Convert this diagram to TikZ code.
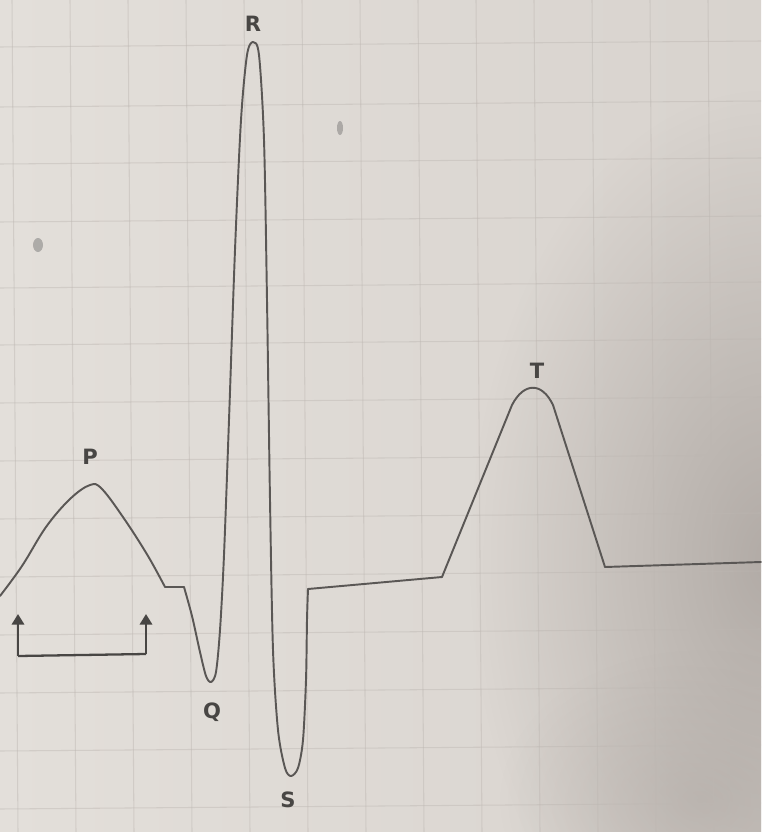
\documentclass[tikz,border=0pt]{standalone}
\usepackage{fontspec}
\setsansfont{DejaVu Sans}
\usetikzlibrary{arrows.meta,fadings}
\definecolor{paper}{HTML}{E3DFDA}
\definecolor{paperdark}{HTML}{D8D3CE}
\definecolor{shadowc}{HTML}{A8A19C}
\definecolor{gridc}{HTML}{BDB7B2}
\definecolor{pencil}{HTML}{5A5755}
\tikzfading[name=softfade, inner color=transparent!20, outer color=transparent!100]
\tikzset{
  wave/.style={draw=pencil, line width=1.1pt, line join=round, line cap=round},
  lbl/.style={font=\sffamily\bfseries\large, text=pencil!80!black, inner sep=1pt},
  brk/.style={draw=pencil!80!black, line width=1.3pt, -{Triangle[length=6pt,width=7pt]}},
  gridline/.style={draw=gridc, line width=0.6pt, opacity=0.45},
  smudge/.style={fill=pencil!70, opacity=0.6}
}
\begin{document}
\begin{tikzpicture}[x=0.02cm,y=-0.02cm]
\useasboundingbox (0,0) rectangle (761,832);
% paper
\shade[left color=paper, right color=paperdark] (0,0) rectangle (761,832);
% soft shadow on the right
\begin{scope}
\clip (0,0) rectangle (761,832);
\fill[shadowc, path fading=softfade] (770,560) ellipse (300 and 470);
\fill[shadowc, path fading=softfade, opacity=0.5] (700,800) ellipse (200 and 150);
\end{scope}
% grid
\foreach \gx in {12,70,128,186,244,302,360,418,476,534,592,650,708} {
  \draw[gridline] (\gx,0) -- (\gx+6,832);
}
\foreach \gy in {47,107,164,222,288,345,403,461,519,577,635,693,751,809} {
  \draw[gridline] (0,\gy) -- (761,\gy-6);
}
% smudges
\fill[smudge] (38,245) ellipse (5 and 7);
\fill[smudge] (340,128) ellipse (3 and 7);
% key points
\coordinate (p0) at (0,596);
\coordinate (pend) at (165,587);
\coordinate (qstart) at (184,587);
\coordinate (send) at (308,589);
\coordinate (tstart) at (442,577);
\coordinate (tl) at (512,405);
\coordinate (tr) at (553,405);
\coordinate (tend) at (605,567);
\coordinate (e) at (761,562);
% P wave
\draw[wave] plot[smooth, tension=0.6] coordinates {(0,596) (22,566) (46,527) (70,499) (90,485) (102,489) (125,520) (148,556) (165,587)};
\draw[wave] (pend) -- (qstart);
% QRS
\draw[wave] plot[smooth, tension=0.5] coordinates {(184,587) (192,616) (200,652) (206,676) (211,682) (216,672) (220,630) (224,555) (229,420) (235,250) (241,120) (247,55) (253,42) (259,55) (264,140) (267,300) (270,500) (273,650) (278,730) (285,768) (291,776) (298,768) (303,740) (306,680) (307,620) (308,589)};
% ST segment
\draw[wave] (send) -- (tstart);
% T wave
\draw[wave] (tstart) -- (tl) .. controls (524,382) and (542,382) .. (tr) -- (tend);
\draw[wave] (tend) -- (e);
% bracket under P
\coordinate (bl) at (18,656);
\coordinate (br) at (146,654);
\coordinate (blt) at (18,614);
\coordinate (brt) at (146,614);
\draw[draw=pencil!80!black, line width=1.3pt] (bl) -- (br);
\draw[brk] (bl) -- (blt);
\draw[brk] (br) -- (brt);
% labels
\node[lbl] (P) at (90,457) {P};
\node[lbl] (Q) at (212,712) {Q};
\node[lbl] (R) at (253,24) {R};
\node[lbl] (S) at (288,800) {S};
\node[lbl] (T) at (537,371) {T};
\end{tikzpicture}
\end{document}
